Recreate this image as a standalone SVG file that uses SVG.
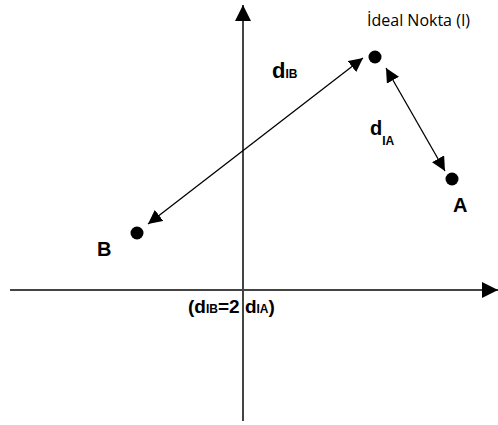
<svg xmlns="http://www.w3.org/2000/svg" width="498" height="425" viewBox="0 0 498 425">
<style>
.axis{stroke:#444;stroke-width:2;fill:none}
.conn{stroke:#000;stroke-width:1.3;fill:none}
.pt{fill:#000}
.lbl{font-family:"Liberation Sans",Arial,sans-serif;font-weight:bold;fill:#000}
.title{font-family:"Open Sans","Liberation Sans",sans-serif;font-size:16px;fill:#000}
</style>
<defs>
<marker id="ah2" viewBox="0 0 10 10" refX="10" refY="5" markerWidth="14" markerHeight="14" markerUnits="userSpaceOnUse" orient="auto-start-reverse">
<path d="M0,0 L10,5 L0,10 z" fill="#000"/>
</marker>
<marker id="ah3" viewBox="0 0 10 10" refX="10" refY="5" markerWidth="16" markerHeight="16" markerUnits="userSpaceOnUse" orient="auto-start-reverse">
<path d="M0,0 L10,5 L0,10 z" fill="#000"/>
</marker>
</defs>
<g id="axes">
<line class="axis" x1="243" y1="421" x2="243" y2="5" marker-end="url(#ah3)"/>
<line class="axis" x1="10" y1="290" x2="498" y2="290" marker-end="url(#ah3)"/>
</g>
<g id="connectors">
<line class="conn" x1="148" y1="224" x2="363" y2="58" marker-start="url(#ah2)" marker-end="url(#ah2)"/>
<line class="conn" x1="386" y1="68" x2="445" y2="171" marker-start="url(#ah2)" marker-end="url(#ah2)"/>
</g>
<g id="node-I">
<circle class="pt" cx="375" cy="57" r="6.5"/>
<text class="title" x="367" y="26">İdeal Nokta (I)</text>
</g>
<g id="node-A">
<circle class="pt" cx="452" cy="179" r="6.5"/>
<text class="lbl" x="453" y="212" font-size="20">A</text>
</g>
<g id="node-B">
<circle class="pt" cx="137" cy="233" r="6.5"/>
<text class="lbl" x="97" y="256" font-size="20">B</text>
</g>
<g id="labels">
<text class="lbl" x="272" y="78" font-size="22">d<tspan font-size="12">IB</tspan></text>
<text class="lbl" x="370" y="135" font-size="20">d<tspan font-size="12" dy="10">IA</tspan></text>
<text class="lbl" x="188" y="313" font-size="19">(d<tspan font-size="12">IB</tspan>=2 d<tspan font-size="12">IA</tspan>)</text>
</g>
</svg>
